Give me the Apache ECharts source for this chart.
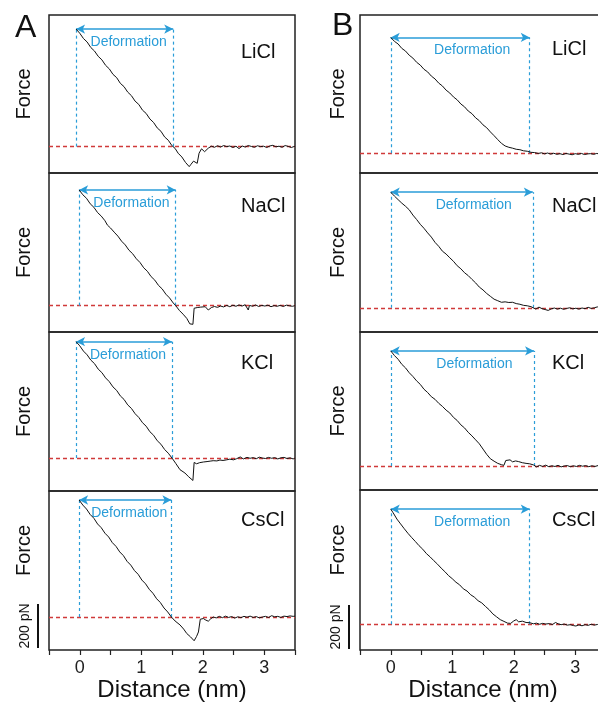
<!DOCTYPE html>
<html>
<head>
<meta charset="utf-8">
<script src="https://cdn.jsdelivr.net/npm/echarts@6/dist/echarts.min.js"></script>
<style>html,body{margin:0;padding:0;background:#fff}#c{width:598px;height:704px}</style>
</head>
<body>
<div id="c"></div>
<script>
// ---------- data (force in pN relative to baseline, distance in nm) ----------
const salts = ['LiCl', 'NaCl', 'KCl', 'CsCl'];
const panelLetters = ['A', 'B'];
const xTickLabels = ['0', '1', '2', '3'];
const xName = 'Distance (nm)';
const yName = 'Force';
const scaleBarText = '200 pN';
const scaleBarPN = 200;

const liclA = [[-0.06,535],[0.00,516],[0.06,492],[0.12,476],[0.18,451],[0.24,435],[0.30,411],[0.36,395],[0.42,370],[0.48,354],[0.54,329],[0.60,314],[0.66,288],[0.72,273],[0.78,248],[0.84,232],[0.90,207],[0.96,192],[1.02,166],[1.08,151],[1.14,126],[1.20,110],[1.26,85],[1.32,70],[1.38,44],[1.44,29],[1.50,4],[1.55,-8],[1.60,-30],[1.66,-47],[1.72,-72],[1.78,-91],[1.81,-80],[1.85,-66],[1.88,-72],[1.91,-76],[1.94,-30],[1.98,-10],[2.03,-23],[2.09,-7],[2.14,2],[2.19,-3],[2.24,4],[2.29,-2],[2.34,5],[2.39,0],[2.44,3],[2.49,-4],[2.54,2],[2.59,-9],[2.64,3],[2.69,-2],[2.74,5],[2.79,1],[2.84,-3],[2.89,4],[2.94,0],[2.99,2],[3.04,-4],[3.09,3],[3.14,6],[3.19,-1],[3.24,2],[3.29,-3],[3.34,5],[3.39,1],[3.44,-4],[3.50,2]];
const naclA = [[-0.01,526],[0.05,504],[0.11,488],[0.17,463],[0.23,447],[0.29,423],[0.35,407],[0.41,386],[0.44,379],[0.45,366],[0.50,353],[0.56,334],[0.62,316],[0.68,293],[0.74,276],[0.80,252],[0.86,236],[0.92,213],[0.98,196],[1.04,172],[1.10,156],[1.16,132],[1.22,116],[1.28,92],[1.34,76],[1.40,52],[1.46,35],[1.52,12],[1.56,0],[1.62,-22],[1.68,-39],[1.74,-58],[1.79,-83],[1.84,-85],[1.86,-12],[1.91,-9],[1.96,-7],[2.04,-5],[2.09,-20],[2.14,-9],[2.19,-4],[2.24,-8],[2.29,-2],[2.34,-6],[2.39,1],[2.44,-5],[2.49,2],[2.54,-3],[2.59,3],[2.64,-2],[2.69,4],[2.74,-20],[2.76,1],[2.81,-3],[2.86,3],[2.91,-4],[2.96,1],[3.01,-2],[3.06,2],[3.11,-5],[3.16,0],[3.21,-3],[3.26,1],[3.31,-4],[3.36,2],[3.41,-1],[3.46,-3],[3.50,0]];
const kclA = [[-0.06,530],[0.00,511],[0.06,487],[0.12,470],[0.18,446],[0.24,430],[0.30,405],[0.36,389],[0.42,365],[0.48,348],[0.54,324],[0.60,308],[0.66,283],[0.72,267],[0.78,242],[0.84,226],[0.90,202],[0.96,185],[1.02,161],[1.08,145],[1.14,120],[1.20,104],[1.26,79],[1.32,63],[1.38,39],[1.44,22],[1.50,0],[1.56,-24],[1.63,-53],[1.71,-68],[1.77,-85],[1.84,-102],[1.86,-20],[1.90,-26],[1.95,-21],[2.01,-18],[2.07,-16],[2.12,-14],[2.17,-12],[2.23,-13],[2.28,-9],[2.33,-11],[2.39,-8],[2.44,-5],[2.50,-8],[2.55,-3],[2.61,5],[2.66,-4],[2.72,3],[2.77,-1],[2.82,2],[2.87,-3],[2.92,4],[2.97,0],[3.02,-2],[3.07,3],[3.12,-1],[3.17,2],[3.22,-4],[3.27,1],[3.32,3],[3.37,-2],[3.42,1],[3.47,-4],[3.50,0]];
const csclA = [[-0.01,532],[0.05,509],[0.11,491],[0.17,466],[0.23,449],[0.29,423],[0.35,406],[0.41,381],[0.47,364],[0.53,338],[0.59,321],[0.65,296],[0.71,279],[0.77,253],[0.83,236],[0.89,211],[0.95,194],[1.01,168],[1.07,151],[1.13,126],[1.19,108],[1.25,83],[1.31,66],[1.37,41],[1.43,23],[1.49,0],[1.55,-18],[1.63,-36],[1.69,-55],[1.74,-75],[1.80,-90],[1.86,-108],[1.90,-88],[1.93,-68],[1.96,-10],[2.01,-7],[2.05,-14],[2.09,-19],[2.13,-8],[2.17,0],[2.22,-4],[2.27,3],[2.32,-3],[2.37,4],[2.42,-2],[2.47,2],[2.52,-5],[2.57,1],[2.62,-3],[2.67,3],[2.72,-1],[2.77,4],[2.82,-2],[2.87,2],[2.92,-4],[2.97,0],[3.02,3],[3.07,-2],[3.12,6],[3.17,1],[3.22,3],[3.27,-2],[3.32,4],[3.37,2],[3.42,5],[3.47,3],[3.50,4]];

const liclB = [[0.00,527],[0.06,509],[0.12,497],[0.18,477],[0.24,465],[0.30,446],[0.36,433],[0.42,414],[0.48,401],[0.54,382],[0.60,370],[0.66,351],[0.72,338],[0.78,319],[0.84,306],[0.90,287],[0.96,274],[1.02,256],[1.08,243],[1.14,224],[1.20,211],[1.26,192],[1.32,180],[1.38,161],[1.44,148],[1.50,129],[1.56,116],[1.62,97],[1.68,80],[1.74,62],[1.80,45],[1.86,33],[1.92,27],[1.98,23],[2.04,18],[2.10,16],[2.16,11],[2.22,9],[2.28,4],[2.34,3],[2.40,-1],[2.45,2],[2.50,-3],[2.55,1],[2.60,-4],[2.65,0],[2.70,-5],[2.75,-2],[2.80,-6],[2.85,-1],[2.90,-4],[2.95,-7],[3.00,-2],[3.05,-5],[3.10,-1],[3.15,-6],[3.20,-3],[3.25,-2],[3.30,-5],[3.35,-1],[3.40,-4],[3.45,-2],[3.50,-3]];
const naclB = [[0.00,525],[0.06,507],[0.12,491],[0.18,475],[0.24,461],[0.30,445],[0.36,421],[0.42,401],[0.48,379],[0.54,361],[0.60,340],[0.66,321],[0.72,297],[0.78,279],[0.84,257],[0.90,244],[0.96,227],[1.02,211],[1.08,191],[1.14,177],[1.20,159],[1.26,146],[1.32,129],[1.38,113],[1.44,94],[1.50,81],[1.56,65],[1.62,52],[1.68,39],[1.74,32],[1.80,25],[1.86,27],[1.92,24],[1.98,25],[2.04,19],[2.10,16],[2.16,11],[2.22,9],[2.28,5],[2.31,1],[2.36,-6],[2.41,3],[2.46,-4],[2.51,-8],[2.56,-12],[2.61,-5],[2.66,-1],[2.71,-6],[2.76,-2],[2.81,-7],[2.86,-3],[2.91,0],[2.96,-5],[3.01,-2],[3.06,-6],[3.11,-1],[3.16,-4],[3.21,2],[3.26,-3],[3.31,0],[3.36,4],[3.41,-2],[3.46,1],[3.50,-1]];
const kclB = [[0.00,523],[0.06,502],[0.12,485],[0.18,462],[0.24,446],[0.30,424],[0.36,407],[0.42,387],[0.48,371],[0.54,349],[0.60,334],[0.66,315],[0.72,303],[0.78,285],[0.84,271],[0.90,254],[0.96,241],[1.02,221],[1.08,207],[1.14,187],[1.20,173],[1.26,153],[1.32,137],[1.38,119],[1.44,101],[1.50,77],[1.56,53],[1.62,33],[1.68,22],[1.74,12],[1.80,6],[1.84,3],[1.87,25],[1.90,20],[1.94,28],[1.98,19],[2.03,23],[2.08,20],[2.14,15],[2.20,12],[2.26,10],[2.32,5],[2.37,-4],[2.42,3],[2.47,-2],[2.52,4],[2.57,-3],[2.62,1],[2.67,-2],[2.72,3],[2.77,-4],[2.82,0],[2.87,2],[2.92,-3],[2.97,1],[3.02,-2],[3.07,3],[3.12,-1],[3.17,2],[3.22,-3],[3.27,1],[3.32,-2],[3.37,2],[3.42,0],[3.47,-3],[3.50,1]];
const csclB = [[0.00,523],[0.04,506],[0.10,478],[0.16,456],[0.22,434],[0.28,413],[0.34,394],[0.40,376],[0.46,357],[0.52,341],[0.58,321],[0.64,306],[0.70,289],[0.76,273],[0.82,255],[0.88,239],[0.94,221],[1.00,207],[1.06,191],[1.12,179],[1.18,161],[1.24,151],[1.30,134],[1.36,123],[1.42,107],[1.48,97],[1.54,81],[1.60,66],[1.66,47],[1.72,34],[1.78,21],[1.84,13],[1.90,5],[1.95,4],[2.00,15],[2.04,21],[2.08,11],[2.14,14],[2.20,8],[2.26,7],[2.32,2],[2.37,5],[2.42,0],[2.47,4],[2.52,1],[2.58,3],[2.63,-1],[2.68,8],[2.72,2],[2.77,-2],[2.82,1],[2.87,-4],[2.92,-2],[2.97,-6],[3.01,-8],[3.06,-3],[3.11,-7],[3.16,-2],[3.21,-5],[3.26,0],[3.31,-4],[3.36,-1],[3.41,-3],[3.46,-5],[3.50,-2]];

// deformation: [start nm, end nm, force level pN]
const deformA = [[-0.06,1.52,535],[-0.01,1.56,526],[-0.06,1.50,530],[-0.01,1.49,532]];
const deformB = [[0.00,2.26,527],[0.00,2.31,525],[0.00,2.33,523],[0.00,2.26,523]];
// scale bar start (pN) in the bottom panel of each column
const scaleBarStart = [-141, -112];

// ---------- layout ----------
const FONT = '"Liberation Sans", Arial, Helvetica, sans-serif';
const BLUE = '#2a9dd8';
const RED = '#d03a3a';
const columns = [
  {left: 49, width: 246, tops: [15,173,332,491], heights: [158,159,159,159],
   yRanges: [[-120,599],[-120,603],[-150,574],[-150,573]],
   curves: [liclA, naclA, kclA, csclA], deform: deformA, labelOffset: [4, 0],
   saltLeft: 241, saltTops: [42,196,353,510], nameGap: 15, letterPos: [15, 12]},
  {left: 360, width: 246, tops: [15,173,332,490], heights: [158,159,158,160],
   yRanges: [[-90,629],[-110,612],[-109,609],[-117,610]],
   curves: [liclB, naclB, kclB, csclB], deform: deformB, labelOffset: [12, 0],
   saltLeft: 552, saltTops: [39,196,353,510], nameGap: 12, letterPos: [332, 10]}
];

const grids = [], xAxes = [], yAxes = [], series = [], titles = [];
columns.forEach((col, ci) => {
  titles.push({text: panelLetters[ci], left: col.letterPos[0], top: col.letterPos[1], padding: 0,
    textStyle: {fontFamily: FONT, fontSize: 32, fontWeight: 'normal', color: '#111'}});
  for (let r = 0; r < 4; r++) {
    const gi = grids.length;
    const bottom = r === 3;
    grids.push({left: col.left, top: col.tops[r], width: col.width, height: col.heights[r],
      show: true, borderColor: '#222', borderWidth: 1.5, backgroundColor: 'transparent',
      containLabel: false, outerBoundsMode: 'none'});
    xAxes.push({type: 'value', gridIndex: gi, min: -0.5, max: 3.5, interval: 0.5,
      axisLine: {show: false, onZero: false}, splitLine: {show: false},
      axisTick: {show: bottom, inside: false, length: 5, lineStyle: {color: '#222', width: 1.2}},
      axisLabel: {show: bottom, margin: 9, fontFamily: FONT, fontSize: 18, color: '#222',
        formatter: v => xTickLabels.includes(String(v)) ? String(v) : ''},
      name: bottom ? xName : '', nameLocation: 'middle', nameGap: 24,
      nameTextStyle: {fontFamily: FONT, fontSize: 24, color: '#111'}});
    yAxes.push({type: 'value', gridIndex: gi, min: col.yRanges[r][0], max: col.yRanges[r][1],
      axisLine: {show: false, onZero: false}, axisTick: {show: false}, axisLabel: {show: false}, splitLine: {show: false},
      name: yName, nameLocation: 'middle', nameRotate: 90, nameGap: col.nameGap,
      nameTextStyle: {fontFamily: FONT, fontSize: 20, color: '#111',
        padding: bottom ? [0, 0, 0, 40] : 0}});
    titles.push({text: salts[r], left: col.saltLeft, top: col.saltTops[r], padding: 0,
      textStyle: {fontFamily: FONT, fontSize: 20, fontWeight: 'normal', color: '#111'}});
    const d = col.deform[r];
    const dashBlue = {color: BLUE, type: [3, 3], width: 1.2};
    series.push({
      type: 'line', xAxisIndex: gi, yAxisIndex: gi, data: col.curves[r],
      showSymbol: false, symbol: 'none', animation: false, silent: true,
      lineStyle: {color: '#111', width: 1}, z: 3,
      markLine: {
        silent: true, animation: false, symbol: ['none', 'none'], precision: 3,
        label: {show: false}, z: 2,
        data: [
          [{coord: [-0.5, 0], lineStyle: {color: RED, type: [4, 3], width: 1.3}}, {coord: [3.5, 0]}],
          [{coord: [d[0], 0], lineStyle: dashBlue}, {coord: [d[0], d[2]]}],
          [{coord: [d[1], 0], lineStyle: dashBlue}, {coord: [d[1], d[2]]}],
          [{coord: [d[0], d[2]], symbol: 'arrow', symbolSize: [7, 9],
            lineStyle: {color: BLUE, type: 'solid', width: 1.5},
            label: {show: true, formatter: 'Deformation', position: 'insideMiddleBottom', distance: 6,
              offset: col.labelOffset, fontFamily: FONT, fontSize: 14, color: BLUE}},
           {coord: [d[1], d[2]], symbol: 'arrow', symbolSize: [7, 9]}]
        ]
      }
    });
  }
});

const chart = echarts.init(document.getElementById('c'), null, {renderer: 'canvas'});
chart.setOption({
  backgroundColor: '#fff', animation: false,
  title: titles, grid: grids, xAxis: xAxes, yAxis: yAxes, series: series
});

// scale bars, drawn through the bottom panels' y scales
const graphics = [];
columns.forEach((col, ci) => {
  const gi = ci * 4 + 3;
  const p0 = chart.convertToPixel({gridIndex: gi}, [0, scaleBarStart[ci]]);
  const p1 = chart.convertToPixel({gridIndex: gi}, [0, scaleBarStart[ci] + scaleBarPN]);
  const bx = col.left - 11;
  graphics.push({type: 'line', shape: {x1: bx, y1: p0[1], x2: bx, y2: p1[1]},
    style: {stroke: '#111', lineWidth: 2}, silent: true});
  graphics.push({type: 'text', x: bx - 13, y: (p0[1] + p1[1]) / 2, rotation: Math.PI / 2, silent: true,
    style: {text: scaleBarText, fontFamily: FONT, fontSize: 14, fill: '#111', align: 'center', verticalAlign: 'middle'}});
});
chart.setOption({graphic: graphics});
</script>
</body>
</html>
